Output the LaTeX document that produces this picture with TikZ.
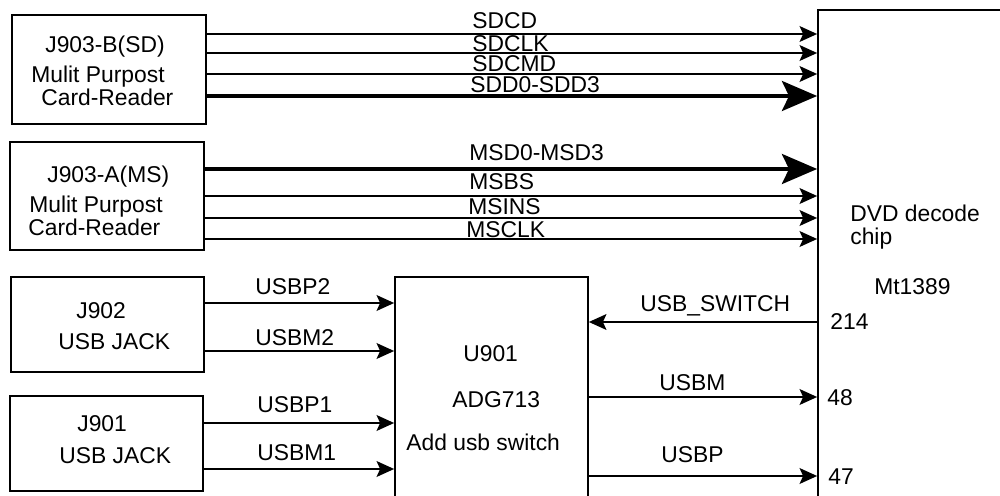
\documentclass[tikz,border=0pt]{standalone}
\usepackage{fontspec}
\setmainfont{Liberation Sans}
\usetikzlibrary{arrows.meta}

\begin{document}
\begin{tikzpicture}[
    x=0.02cm, y=-0.02cm,
    font=\fontsize{13pt}{15pt}\selectfont,
    box/.style={draw, line width=1pt, inner sep=0pt},
    sig/.style={line width=0.85pt, -{Stealth[length=10pt, width=9pt, inset=2pt]}},
    bus/.style={line width=2.4pt, -{Stealth[length=20pt, width=17pt, inset=4pt]}},
    lbl/.style={inner sep=0pt, anchor=base west}
]
\useasboundingbox (0,0) rectangle (1000,496);

% Card readers
\node[box, minimum width=3.88cm, minimum height=2.18cm] (sd) at (109,69.5) {};
\node[lbl] (sdname) at (45,53) {J903-B(SD)};
\node[lbl] (sdtype) at (31,83) {Mulit Purpost};
\node[lbl] (sdcard) at (41,106) {Card-Reader};

\node[box, minimum width=3.88cm, minimum height=2.16cm] (ms) at (107,196) {};
\node[lbl] (msname) at (47,183) {J903-A(MS)};
\node[lbl] (mstype) at (29,213) {Mulit Purpost};
\node[lbl] (mscard) at (28,236) {Card-Reader};

% USB jacks
\node[box, minimum width=3.86cm, minimum height=1.9cm] (j902) at (107.5,324.5) {};
\node[lbl] (j902name) at (76,318) {J902};
\node[lbl] (j902type) at (58,349) {USB JACK};

\node[box, minimum width=3.86cm, minimum height=1.9cm] (j901) at (106.5,443.5) {};
\node[lbl] (j901name) at (77,431) {J901};
\node[lbl] (j901type) at (59,463) {USB JACK};

% USB switch
\node[box, minimum width=3.86cm, minimum height=4.66cm] (u901) at (491.5,393.5) {};
\node[lbl] (u901name) at (463,361) {U901};
\node[lbl] (u901part) at (452,407) {ADG713};
\node[lbl] (u901type) at (406,450) {Add usb switch};

% Decoder chip
\node[box, minimum width=3.84cm, minimum height=10cm] (chip) at (914,260) {};
\node[lbl] (chipname) at (850,222) {DVD decode};
\node[lbl] (chiptype) at (850,245) {chip};
\node[lbl] (chippart) at (874,295) {Mt1389};
\node[lbl] (pin214) at (830,330) {214};
\node[lbl] (pin48) at (827,405) {48};
\node[lbl] (pin47) at (828,484) {47};

% SD signals
\draw[sig] (sd.east |- 0,34) -- (chip.west |- 0,34);
\draw[sig] (sd.east |- 0,53) -- (chip.west |- 0,53);
\draw[sig] (sd.east |- 0,74) -- (chip.west |- 0,74);
\draw[bus] (sd.east |- 0,96) -- (chip.west |- 0,96);
\node[lbl] (lsdcd) at (472,29) {SDCD};
\node[lbl] (lsdclk) at (472,52) {SDCLK};
\node[lbl] (lsdcmd) at (472,72) {SDCMD};
\node[lbl] (lsdd) at (470,93) {SDD0-SDD3};

% MS signals
\draw[bus] (ms.east |- 0,169) -- (chip.west |- 0,169);
\draw[sig] (ms.east |- 0,196) -- (chip.west |- 0,196);
\draw[sig] (ms.east |- 0,218) -- (chip.west |- 0,218);
\draw[sig] (ms.east |- 0,239) -- (chip.west |- 0,239);
\node[lbl] (lmsd) at (469,161) {MSD0-MSD3};
\node[lbl] (lmsbs) at (469,190) {MSBS};
\node[lbl] (lmsins) at (468,215) {MSINS};
\node[lbl] (lmsclk) at (466,238) {MSCLK};

% USB lines
\draw[sig] (j902.east |- 0,303) -- (u901.west |- 0,303);
\draw[sig] (j902.east |- 0,351) -- (u901.west |- 0,351);
\draw[sig] (j901.east |- 0,423) -- (u901.west |- 0,423);
\draw[sig] (j901.east |- 0,469) -- (u901.west |- 0,469);
\node[lbl] (lusbp2) at (255,295) {USBP2};
\node[lbl] (lusbm2) at (255,345) {USBM2};
\node[lbl] (lusbp1) at (257,412) {USBP1};
\node[lbl] (lusbm1) at (257,460) {USBM1};

\draw[sig] (chip.west |- 0,322) -- (u901.east |- 0,322);
\draw[sig] (u901.east |- 0,397) -- (chip.west |- 0,397);
\draw[sig] (u901.east |- 0,476) -- (chip.west |- 0,476);
\node[lbl] (lswitch) at (640,312) {USB\_SWITCH};
\node[lbl] (lusbm) at (659,390) {USBM};
\node[lbl] (lusbp) at (661,462) {USBP};

\end{tikzpicture}
\end{document}
